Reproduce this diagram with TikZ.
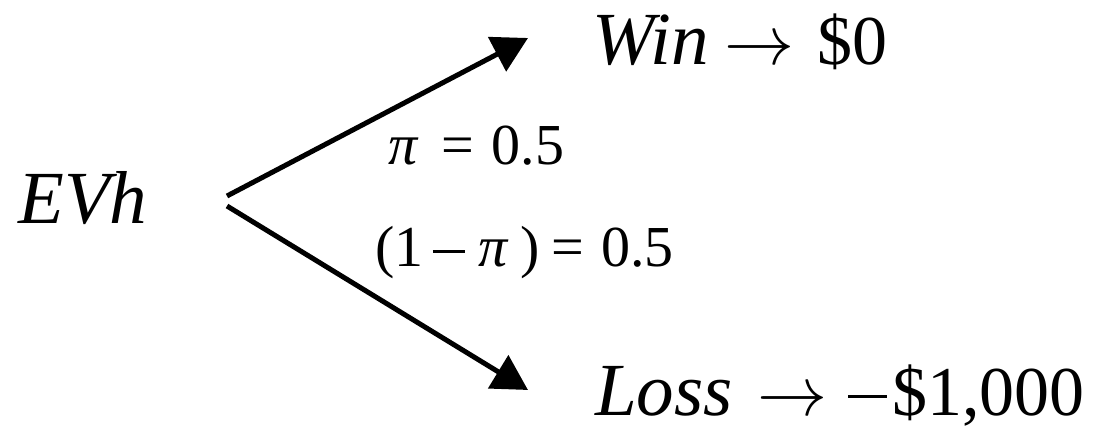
\documentclass[tikz,border=0pt]{standalone}
\usepackage{fontspec}
\setmainfont{Liberation Serif}
\usetikzlibrary{arrows.meta}
\newcommand{\ita}[1]{{\fontsize{75}{80}\selectfont\itshape #1}}
\newcommand{\rarr}{\scalebox{7}{\fontsize{10}{12}\selectfont$\rightarrow$}}
\newcommand{\mns}{\rule[0.24em]{0.55em}{0.045em}}
\tikzset{
  big/.style={inner sep=0pt, anchor=base west, font=\fontsize{70}{80}\selectfont},
  lbl/.style={inner sep=0pt, anchor=base west, font=\fontsize{58}{64}\selectfont},
  branch/.style={line width=5pt, -{Triangle[length=35pt,width=38pt]}}
}
\begin{document}
\begin{tikzpicture}[x=1pt,y=-1pt]
\useasboundingbox (0,0) rectangle (1093,430);
\node[big] (evh) at (18,224) {\ita{EVh}};
\node[big] (win) at (592,65) {\ita{Win}\hspace{0.22em}\rarr\hspace{0.33em}\$0};
\node[big] (loss) at (595,415) {\ita{Loss}\hspace{0.35em}\rarr\hspace{0.3em}\mns\hspace{0.08em}\$1,000};
\node[lbl] (p1) at (388,165) {\itshape π\upshape\hspace{0.42em}=\hspace{0.3em}0.5};
\node[lbl] (p2) at (375,267) {(1\hspace{0.16em}\mns\hspace{0.24em}\itshape π\upshape\hspace{0.22em})\hspace{0.2em}=\hspace{0.3em}0.5};
\coordinate (s1) at (227,196);
\coordinate (s2) at (227,206);
\coordinate (t1) at (528,38);
\coordinate (t2) at (528,390);
\draw[branch] (s1) -- (t1);
\draw[branch] (s2) -- (t2);
\end{tikzpicture}
\end{document}
